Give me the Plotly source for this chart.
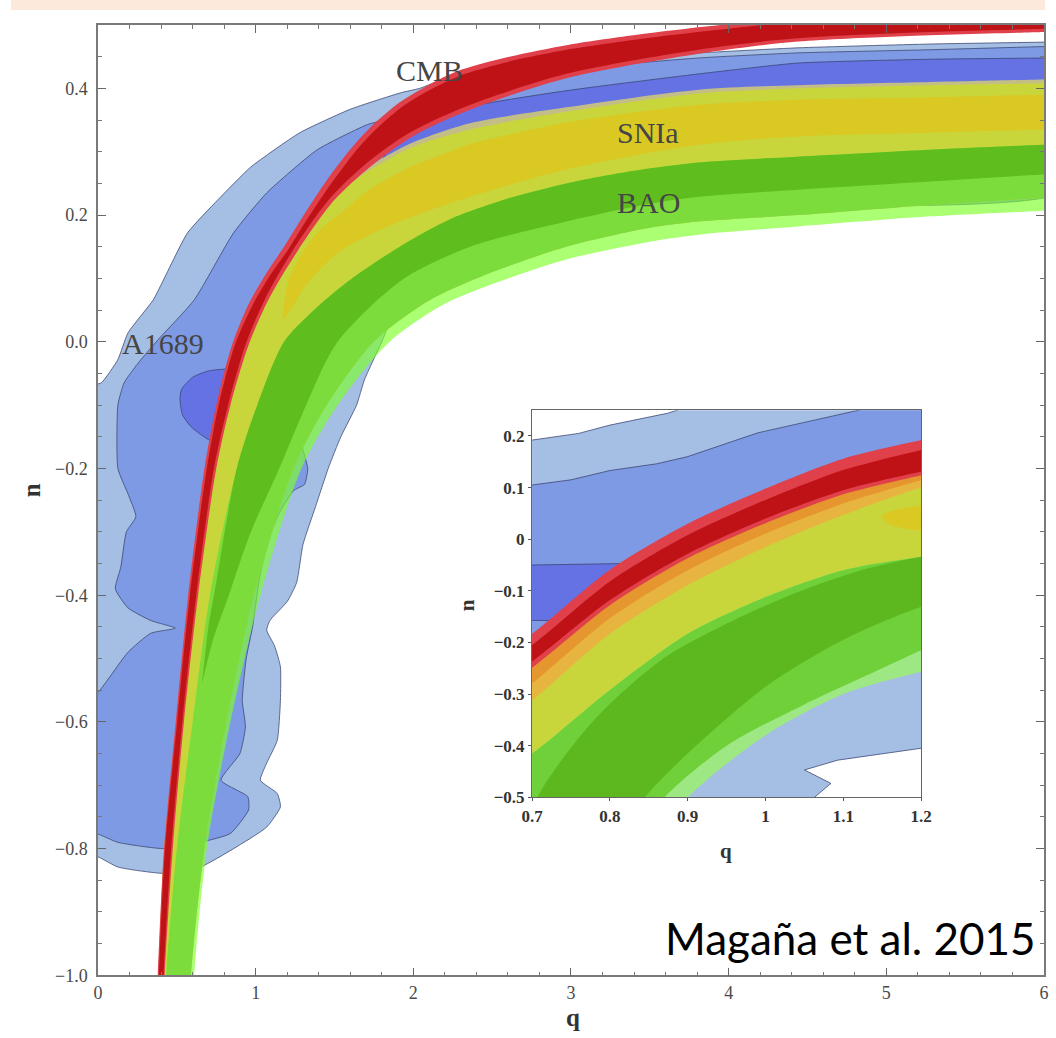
import plotly.graph_objects as go

# ---------------- main panel (q, n) contour boundaries ----------------
# CMB band
cmb_hi = [(0.372,-1.05),(0.379,-1.0),(0.417,-0.806),(0.493,-0.6),(0.572,-0.4),(0.675,-0.2),(0.75,-0.1),
          (0.85,-0.005),(0.96,0.062),(1.08,0.113),(1.188,0.153),(1.295,0.196),(1.44,0.251),(1.598,0.303),
          (1.725,0.338),(1.914,0.378),(2.123,0.409),(2.312,0.43),(2.609,0.45),(2.988,0.469),(3.43,0.485),
          (3.872,0.498),(4.44,0.512),(6.1,0.532)]
cmb_lo = [(0.418,-1.05),(0.423,-1.0),(0.474,-0.8),(0.545,-0.6),(0.635,-0.4),(0.75,-0.2),(0.84,-0.1),
          (0.955,-0.005),(1.08,0.066),(1.27,0.145),(1.5,0.224),(1.725,0.276),(2.0,0.325),(2.356,0.366),
          (2.988,0.417),(3.872,0.457),(4.44,0.474),(5.07,0.482),(6.0,0.489),(6.15,0.49)]
cmb_core_hi = [(0.378,-1.05),(0.386,-1.0),(0.425,-0.8),(0.502,-0.6),(0.583,-0.4),(0.69,-0.2),(0.765,-0.1),
               (0.868,-0.005),(0.985,0.06),(1.10,0.108),(1.21,0.147),(1.315,0.189),(1.46,0.243),
               (1.615,0.295),(1.74,0.330),(1.93,0.371),(2.14,0.402),(2.33,0.423),(2.62,0.443),(3.0,0.462),
               (3.44,0.478),(3.88,0.491),(4.45,0.505),(6.1,0.525)]
cmb_core_lo = [(0.412,-1.05),(0.416,-1.0),(0.464,-0.8),(0.535,-0.6),(0.623,-0.4),(0.735,-0.2),(0.825,-0.1),
               (0.935,-0.005),(1.06,0.068),(1.245,0.148),(1.47,0.226),(1.69,0.279),(1.97,0.329),
               (2.33,0.371),(2.97,0.423),(3.86,0.463),(4.43,0.479),(5.06,0.487),(6.0,0.494),(6.15,0.495)]

# SNIa band
sn_3_hi = [(0.375,-1.05),(0.383,-1.0),(0.42,-0.8),(0.50,-0.6),(0.58,-0.4),(0.69,-0.2),(0.87,0.0),(1.0,0.066),
           (1.2,0.135),(1.4,0.2),(1.6,0.255),(1.82,0.292),(2.0,0.315),(2.36,0.345),(2.97,0.37),(3.81,0.398),
           (4.44,0.405),(5.28,0.41),(6.0,0.414),(6.15,0.415)]
sn_2_hi = [(0.375,-1.05),(0.383,-1.0),(0.42,-0.8),(0.50,-0.6),(0.58,-0.4),(0.69,-0.2),(0.87,0.0),(1.0,0.066),
           (1.2,0.133),(1.4,0.196),(1.6,0.25),(1.82,0.285),(2.0,0.308),(2.36,0.335),(2.97,0.363),(3.81,0.392),
           (4.44,0.40),(5.28,0.405),(6.0,0.408),(6.15,0.409)]
sn_1_hi = [(1.17,0.035),(1.20,0.09),(1.27,0.13),(1.40,0.175),(1.55,0.205),(1.72,0.24),(2.0,0.278),(2.23,0.30),
           (2.36,0.312),(2.97,0.346),(3.81,0.374),(4.44,0.382),(5.28,0.386),(6.0,0.39),(6.15,0.391)]
sn_1_lo = [(1.17,0.035),(1.22,0.05),(1.32,0.09),(1.52,0.14),(1.75,0.172),(2.0,0.198),(2.36,0.229),(2.97,0.272),
           (3.81,0.311),(4.44,0.324),(5.28,0.33),(6.0,0.335),(6.15,0.336)]

# BAO band
bao_hi = [(0.426,-1.05),(0.432,-1.0),(0.50,-0.8),(0.60,-0.6),(0.71,-0.4),(0.88,-0.2),(1.01,-0.1),(1.18,0.0),
          (1.36,0.048),(1.6,0.098),(1.914,0.15),(2.23,0.193),(2.6,0.226),(2.97,0.25),(3.4,0.27),(3.81,0.283),
          (4.44,0.292),(5.28,0.303),(6.0,0.311),(6.15,0.312)]
bao_1_hi = [(0.66,-0.54),(0.70,-0.45),(0.75,-0.38),(0.88,-0.2),(1.01,-0.1),(1.18,0.0),(1.36,0.048),(1.6,0.098),
            (1.914,0.15),(2.23,0.193),(2.6,0.226),(2.97,0.25),(3.4,0.27),(3.81,0.283),(4.44,0.292),(5.28,0.303),
            (6.0,0.311),(6.15,0.312)]
bao_1_lo = [(0.66,-0.54),(0.73,-0.47),(0.83,-0.4),(0.97,-0.3),(1.15,-0.2),(1.32,-0.1),(1.52,0.0),(1.93,0.098),
            (2.36,0.15),(2.97,0.19),(3.5,0.218),(3.81,0.229),(4.44,0.24),(5.28,0.253),(6.0,0.264),(6.15,0.265)]
bao_2_lo = [(0.585,-1.05),(0.59,-1.0),(0.675,-0.8),(0.815,-0.6),(0.99,-0.4),(1.24,-0.2),(1.45,-0.1),(1.75,0.0),
            (2.1,0.065),(2.45,0.105),(2.97,0.15),(3.5,0.18),(3.81,0.19),(4.44,0.20),(5.28,0.216),(6.0,0.227),
            (6.15,0.228)]
bao_3_lo = [(0.605,-1.05),(0.61,-1.0),(0.69,-0.8),(0.84,-0.6),(1.03,-0.4),(1.29,-0.2),(1.52,-0.1),(1.85,0.0),
            (2.2,0.06),(2.6,0.1),(2.97,0.13),(3.5,0.158),(3.81,0.169),(4.44,0.182),(5.28,0.198),(6.0,0.207),
            (6.15,0.209)]

# A1689 contours (closed outlines)
a1689_3 = [(1.92,0.393),(1.60,0.367),(1.28,0.33),(0.97,0.276),(0.76,0.224),(0.568,0.172),(0.40,0.09),
           (0.35,0.066),(0.19,0.014),(0.126,-0.028),(0.02,-0.065),(-0.05,-0.07),(-0.05,-0.812),(0.0,-0.813),
           (0.126,-0.829),(0.417,-0.839),(0.65,-0.829),(0.86,-0.80),(1.07,-0.766),(1.157,-0.734),
           (1.137,-0.713),(1.03,-0.692),(1.07,-0.665),(1.137,-0.629),(1.157,-0.566),(1.157,-0.513),
           (1.12,-0.48),(1.07,-0.455),(1.09,-0.44),(1.2,-0.41),(1.26,-0.38),(1.30,-0.32),(1.38,-0.26),
           (1.46,-0.2),(1.54,-0.15),(1.64,-0.1),(1.69,-0.06),(1.8,0.0),(1.95,0.08),(2.5,0.15),(3.5,0.22),
           (6.15,0.25),(6.15,0.474),(6.0,0.473),(5.28,0.47),(4.44,0.464),(3.81,0.456),(3.5,0.452),
           (2.8,0.44),(2.2,0.415),(2.04,0.40)]
a1689_2 = [(6.15,0.467),(6.0,0.466),(5.28,0.461),(4.44,0.456),(3.81,0.448),(3.0,0.43),(2.5,0.405),(2.1,0.375),
           (1.85,0.352),(1.71,0.343),(1.39,0.303),(1.07,0.235),(0.86,0.172),(0.61,0.066),(0.38,0.003),
           (0.25,-0.035),(0.165,-0.065),(0.126,-0.1),(0.126,-0.2),(0.19,-0.24),(0.24,-0.276),(0.18,-0.30),
           (0.145,-0.355),(0.11,-0.39),(0.19,-0.42),(0.335,-0.44),(0.49,-0.452),(0.335,-0.46),(0.19,-0.49),
           (0.06,-0.534),(0.0,-0.553),(-0.05,-0.555),(-0.05,-0.776),(0.0,-0.777),(0.125,-0.79),(0.42,-0.80),
           (0.65,-0.79),(0.84,-0.776),(0.955,-0.739),(0.95,-0.718),(0.78,-0.692),(0.90,-0.65),(0.935,-0.608),
           (0.915,-0.566),(0.94,-0.5),(0.98,-0.45),(1.03,-0.365),(1.1,-0.3),(1.15,-0.27),(1.24,-0.235),
           (1.31,-0.225),(1.33,-0.2),(1.30,-0.17),(1.25,-0.1),(1.6,0.05),(2.2,0.12),(3.5,0.21),(6.15,0.24)]
a1689_1a = [(0.52,-0.09),(0.53,-0.075),(0.6,-0.056),(0.7,-0.046),(0.85,-0.043),(0.92,-0.05),(0.88,-0.16),
            (0.714,-0.156),(0.59,-0.134),(0.535,-0.115)]
a1689_1b = [(1.80,0.285),(1.84,0.302),(2.0,0.335),(2.36,0.371),(2.99,0.397),(3.85,0.424),(4.44,0.44),
            (5.28,0.446),(6.0,0.448),(6.15,0.449),(6.15,0.40),(3.0,0.35),(2.0,0.28),(1.82,0.272)]

# ---------------- inset panel boundaries ----------------
ins_q = [0.68, 0.7, 0.8, 0.9, 1.0, 1.1, 1.2, 1.22]
ins_red_top = [-0.2, -0.183, -0.059, 0.03, 0.098, 0.156, 0.192, 0.199]
ins_core_top = [-0.222, -0.205, -0.082, 0.008, 0.076, 0.134, 0.173, 0.18]
ins_core_bot = [-0.255, -0.237, -0.118, -0.028, 0.04, 0.095, 0.131, 0.138]
ins_rim_bot = [-0.267, -0.249, -0.128, -0.037, 0.031, 0.087, 0.124, 0.131]
ins_orange_mid = [-0.298, -0.279, -0.153, -0.06, 0.011, 0.069, 0.114, 0.12]
ins_orange_bot = [-0.33, -0.312, -0.183, -0.089, -0.015, 0.047, 0.10, 0.106]
ins_green_top = [-0.43, -0.415, -0.292, -0.183, -0.112, -0.06, -0.034, -0.03]

ins_sn_bottom = [(0.68,-0.6),(0.95,-0.4),(1.22,-0.15)]
ins_sn_yellow = [(1.22,0.062),(1.17,0.058),(1.15,0.045),(1.16,0.028),(1.22,0.02)]
ins_bao_1_hi = [(0.69,-0.6),(0.707,-0.5),(0.78,-0.35),(0.866,-0.234),(0.951,-0.163),(1.037,-0.105),
                (1.123,-0.06),(1.2,-0.034),(1.22,-0.03)]
ins_bao_1_lo = [(0.8,-0.6),(0.845,-0.5),(0.9,-0.415),(1.0,-0.286),(1.1,-0.195),(1.2,-0.131),(1.22,-0.125)]
ins_bao_2_lo = [(0.68,-0.6),(0.82,-0.6),(0.87,-0.5),(0.95,-0.4),(1.05,-0.32),(1.15,-0.25),(1.2,-0.215),
                (1.22,-0.205)]
ins_bao_3_lo = [(0.68,-0.6),(0.85,-0.6),(0.9,-0.5),(1.0,-0.38),(1.1,-0.3),(1.2,-0.257),(1.22,-0.25)]

ins_a1689_3 = [(0.68,0.19),(0.7,0.192),(0.76,0.205),(0.8,0.221),(0.874,0.244),(0.887,0.25),(0.9,0.27),
               (1.22,0.27),(1.22,-0.404),(1.2,-0.405),(1.093,-0.428),(1.05,-0.447),(1.084,-0.473),
               (1.063,-0.5),(1.06,-0.52),(0.68,-0.52)]
ins_a1689_2 = [(0.68,0.10),(0.7,0.105),(0.75,0.115),(0.8,0.133),(0.86,0.146),(0.9,0.16),(0.99,0.206),
               (1.06,0.23),(1.12,0.25),(1.15,0.27),(1.22,0.27),(1.22,-0.08),(1.0,-0.15),(0.8,-0.35),
               (0.68,-0.45)]
ins_a1689_1 = [(0.68,-0.05),(0.7,-0.05),(0.823,-0.047),(0.86,-0.046),(0.86,-0.16),(0.733,-0.157),
               (0.7,-0.157),(0.68,-0.157)]

# ---------------- colours ----------------
C_BLUE3, C_BLUE2, C_BLUE1 = "#a4bee4", "#7f9ae4", "#6472e4"
C_EDGE = "rgba(55,65,110,0.75)"
C_RED_RIM, C_RED_CORE = "#e0404a", "#be1216"
C_TAN, C_YG, C_YEL = "#c3be86", "#c8d63c", "#dac823"
C_G1, C_G2, C_G3 = "#60bd1e", "#7cdc3c", "rgba(125,255,40,0.65)"
C_ORANGE, C_ORANGE_L = "#e6962e", "#e8b440"
PEACH = "#fde9dc"


def band(upper, lower):
    pts = list(upper) + list(reversed(lower))
    pts.append(pts[0])
    return [p[0] for p in pts], [p[1] for p in pts]


def outline(pts):
    pts = list(pts) + [pts[0]]
    return [p[0] for p in pts], [p[1] for p in pts]


def col(vals):
    return list(zip(ins_q, vals))


fig = go.Figure()


def add(xy, color, ax="", edge=None, shape="spline", smooth=0.8):
    x, y = xy
    fig.add_trace(go.Scatter(
        x=x, y=y, fill="toself", fillcolor=color, mode="lines",
        line=dict(width=1 if edge else 0, color=edge or "rgba(0,0,0,0)", shape=shape,
                  smoothing=smooth if shape == "spline" else None),
        hoverinfo="skip", showlegend=False,
        xaxis="x" + ax, yaxis="y" + ax))


# ---- main panel ----
add(outline(a1689_3), C_BLUE3, edge=C_EDGE, smooth=0.5)
add(outline(a1689_2), C_BLUE2, edge=C_EDGE, smooth=0.5)
add(outline(a1689_1a), C_BLUE1, edge=C_EDGE, smooth=0.6)
add(outline(a1689_1b), C_BLUE1, edge=C_EDGE, smooth=0.5)

add(band(sn_3_hi, bao_2_lo), C_TAN)
add(band(sn_2_hi, bao_2_lo), C_YG)
add(band(sn_1_hi, sn_1_lo), C_YEL)

add(band(bao_2_lo, bao_3_lo), C_G3)
add(band(bao_hi, bao_2_lo), C_G2)
add(band(bao_1_hi, bao_1_lo), C_G1)

add(band(cmb_hi, cmb_lo), C_RED_RIM)
add(band(cmb_core_hi, cmb_core_lo), C_RED_CORE)

# ---- inset panel ----
add(outline([(0.6,-0.6),(1.3,-0.6),(1.3,0.3),(0.6,0.3)]), "white", ax="2", shape="linear")
add(outline(ins_a1689_3), C_BLUE3, ax="2", edge=C_EDGE, shape="linear")
add(outline(ins_a1689_2), C_BLUE2, ax="2", edge=C_EDGE, shape="linear")
add(outline(ins_a1689_1), C_BLUE1, ax="2", edge=C_EDGE, shape="linear")
add(band(col(ins_core_top), ins_sn_bottom), C_YG, ax="2")
add(outline(ins_sn_yellow), C_YEL, ax="2")
add(band(col(ins_green_top), ins_bao_3_lo), "#9ee883", ax="2")
add(band(col(ins_green_top), ins_bao_2_lo), "#6fd03a", ax="2")
add(band(ins_bao_1_hi, ins_bao_1_lo), "#5cb81e", ax="2")
add(band(col(ins_core_top), col(ins_orange_bot)), C_ORANGE_L, ax="2")
add(band(col(ins_core_top), col(ins_orange_mid)), C_ORANGE, ax="2")
add(band(col(ins_red_top), col(ins_rim_bot)), C_RED_RIM, ax="2")
add(band(col(ins_core_top), col(ins_core_bot)), C_RED_CORE, ax="2")

# ---------------- page geometry ----------------
# layout positions are given in final picture pixels (X, Y); the capture
# shifts the page right by X0 and scales it by SX, SY, so map them back
W, H = 1056, 1038
X0, SX, SY = 10.0, 0.979, 0.99


def fx(X):
    return min((X - X0) / SX / W, 0.999)


def fy(Y):
    return max(1 - Y / SY / H, 0.0)


SERIF = "Liberation Serif"
main_axis = dict(showline=True, linecolor="#7a7a7a", linewidth=1.5, mirror="ticks", ticks="inside",
                 ticklen=8, tickwidth=1.2, tickcolor="#666", showgrid=False, zeroline=False,
                 tickfont=dict(family=SERIF, size=18, color="#4a4a4a"))
y_ticks = [-1.0, -0.8, -0.6, -0.4, -0.2, 0.0, 0.2, 0.4]
x_ticks = [0, 1, 2, 3, 4, 5, 6]
ins_x_ticks = [0.7, 0.8, 0.9, 1.0, 1.1, 1.2]
ins_x_text = ["0.7", "0.8", "0.9", "1", "1.1", "1.2"]
ins_y_ticks = [-0.5, -0.4, -0.3, -0.2, -0.1, 0.0, 0.1, 0.2]
ins_y_text = ["\u22120.5", "\u22120.4", "\u22120.3", "\u22120.2", "\u22120.1", "0", "0.1", "0.2"]
ins_font = dict(family=SERIF, size=17, color="#333", weight="bold")

fig.update_layout(
    width=W, height=H, margin=dict(l=0, r=0, t=0, b=0),
    paper_bgcolor="white", plot_bgcolor="white",
    xaxis=dict(main_axis, domain=[fx(97), fx(1048)], range=[0, 6], tickvals=x_ticks,
               minor=dict(ticks="inside", ticklen=4, dtick=0.2, tickcolor="#777", showgrid=False)),
    yaxis=dict(main_axis, domain=[fy(975), fy(25)], range=[-1.0, 0.5], tickvals=y_ticks,
               ticktext=[("\u2212" if v < 0 else "") + "%.1f" % abs(v) for v in y_ticks],
               ticklabelstandoff=5,
               minor=dict(ticks="inside", ticklen=4, dtick=0.05, tickcolor="#777", showgrid=False)),
    xaxis2=dict(domain=[fx(531), fx(920)], range=[0.7, 1.2], anchor="y2", tickvals=ins_x_ticks,
                ticktext=ins_x_text, showline=True, linecolor="#666", linewidth=1.2, mirror=True,
                ticks="outside", ticklen=3, tickcolor="#555", showgrid=False, zeroline=False,
                tickfont=ins_font),
    yaxis2=dict(domain=[fy(797), fy(410)], range=[-0.5, 0.25], anchor="x2", tickvals=ins_y_ticks,
                ticktext=ins_y_text, showline=True, linecolor="#666", linewidth=1.2, mirror=True,
                ticks="outside", ticklen=3, tickcolor="#555", showgrid=False, zeroline=False,
                tickfont=ins_font),
    shapes=[
        dict(type="rect", xref="paper", yref="paper", x0=0, x1=1, y0=fy(10), y1=1,
             fillcolor=PEACH, line_width=0, layer="below"),
    ],
)

# ---------------- text ----------------
label_font = dict(family=SERIF, size=30, color="#454545")
notes = [
    dict(x=2.10, y=0.428, xref="x", yref="y", text="CMB", font=label_font),
    dict(x=3.49, y=0.33, xref="x", yref="y", text="SNIa", font=label_font),
    dict(x=3.49, y=0.22, xref="x", yref="y", text="BAO", font=label_font),
    dict(x=0.414, y=-0.002, xref="x", yref="y", text="A1689", font=label_font),
    dict(x=fx(572), y=fy(1017), xref="paper", yref="paper", text="<b>q</b>",
         font=dict(family=SERIF, size=25, color="#333")),
    dict(x=fx(30), y=fy(490), xref="paper", yref="paper", text="<b>n</b>", textangle=-90,
         font=dict(family=SERIF, size=25, color="#333")),
    dict(x=fx(725), y=fy(851), xref="paper", yref="paper", text="<b>q</b>",
         font=dict(family=SERIF, size=21, color="#333")),
    dict(x=fx(466), y=fy(605), xref="paper", yref="paper", text="<b>n</b>", textangle=-90,
         font=dict(family=SERIF, size=21, color="#333")),
    dict(x=fx(1037), y=fy(938), xref="paper", yref="paper", text="Magaña et al. 2015",
         xanchor="right", font=dict(family="Lato", size=44, color="black")),
]
for a in notes:
    a.setdefault("showarrow", False)
    a.setdefault("xanchor", "center")
    a.setdefault("yanchor", "middle")
fig.update_layout(annotations=notes)

fig.write_html(
    "out.html",
    post_script="document.documentElement.style.background="
                "'linear-gradient(90deg,#fde9dc 10px,#ffffff 10px)';",
)
